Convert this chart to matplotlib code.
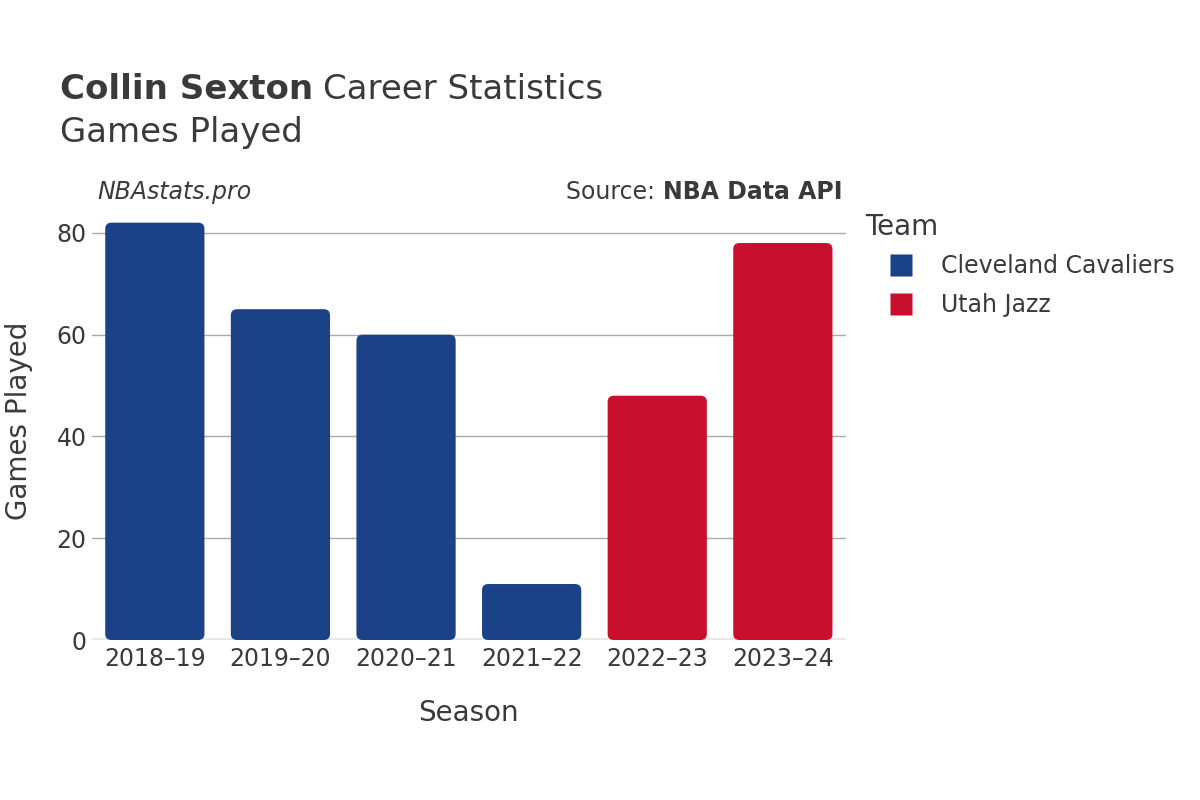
import matplotlib.pyplot as plt
from matplotlib.patches import FancyBboxPatch
from matplotlib.lines import Line2D

plt.rcParams['font.family'] = ['DejaVu Sans']

seasons = ['2018–19', '2019–20', '2020–21', '2021–22', '2022–23', '2023–24']
games = [82, 65, 60, 11, 48, 78]
teams = ['Cleveland Cavaliers', 'Cleveland Cavaliers', 'Cleveland Cavaliers',
         'Cleveland Cavaliers', 'Utah Jazz', 'Utah Jazz']
team_colors = {'Cleveland Cavaliers': '#1b4187', 'Utah Jazz': '#c8102e'}

txt = '#3a3a3a'

fig = plt.figure(figsize=(12, 8), dpi=100)
ax = fig.add_axes([0.0767, 0.2, 0.628, 0.549])

x = list(range(len(seasons)))
bars = ax.bar(x, games, width=0.79, color=[team_colors[t] for t in teams])

# swap plain bars for ones with rounded tops
for b in bars:
    b.set_visible(False)
    rb = FancyBboxPatch((b.get_x(), 0), b.get_width(), b.get_height(),
                        boxstyle='round,pad=0,rounding_size=0.05',
                        mutation_aspect=24, facecolor=b.get_facecolor(),
                        edgecolor='none', zorder=3)
    ax.add_patch(rb)

ax.set_xlim(-0.5, len(seasons) - 0.5)
ax.set_ylim(0, 86.3)
ax.set_yticks([0, 20, 40, 60, 80])
ax.set_xticks(x)
ax.set_xticklabels(seasons)
ax.grid(axis='y', color='#aaaaaa', linewidth=1, zorder=0)
ax.set_axisbelow(True)
ax.axhline(0, color='#e8e8e8', linewidth=3, zorder=2)
for s in ax.spines.values():
    s.set_visible(False)
ax.tick_params(axis='both', length=0, labelsize=17, colors=txt, pad=5)
ax.tick_params(axis='y', pad=4)

ax.set_xlabel('Season', fontsize=20, color=txt, labelpad=20)
ax.set_ylabel('Games Played', fontsize=20, color=txt, labelpad=17)

r = fig.canvas.get_renderer()
inv = fig.transFigure.inverted()

t1 = fig.text(0.05, 0.888, 'Collin Sexton', fontsize=24.5, fontweight='bold',
              color=txt, va='center')
e = inv.transform(t1.get_window_extent(r))
fig.text(e[1][0] + 0.008, 0.888, 'Career Statistics', fontsize=24.5, color=txt, va='center')
fig.text(0.05, 0.834, 'Games Played', fontsize=24.5, color=txt, va='center')

fig.text(0.081, 0.76, 'NBAstats.pro', fontsize=17, style='italic', color=txt, va='center')
t2 = fig.text(0.702, 0.76, 'NBA Data API', fontsize=17, fontweight='bold', color=txt,
              va='center', ha='right')
e = inv.transform(t2.get_window_extent(r))
fig.text(e[0][0], 0.76, 'Source: ', fontsize=17, color=txt, va='center', ha='right')

fig.text(0.721, 0.716, 'Team', fontsize=20, color=txt, va='center')
handles = [Line2D([], [], marker='s', linestyle='none', markersize=16,
                  markerfacecolor=team_colors[t], markeredgecolor='none')
           for t in team_colors]
fig.legend(handles, list(team_colors), loc='upper left',
           bbox_to_anchor=(0.741, 0.682), frameon=False, fontsize=17,
           labelcolor=txt, handlelength=1.0, handletextpad=1.2,
           labelspacing=0.62, borderpad=0, borderaxespad=0)

fig.savefig('out.png', dpi=100)
